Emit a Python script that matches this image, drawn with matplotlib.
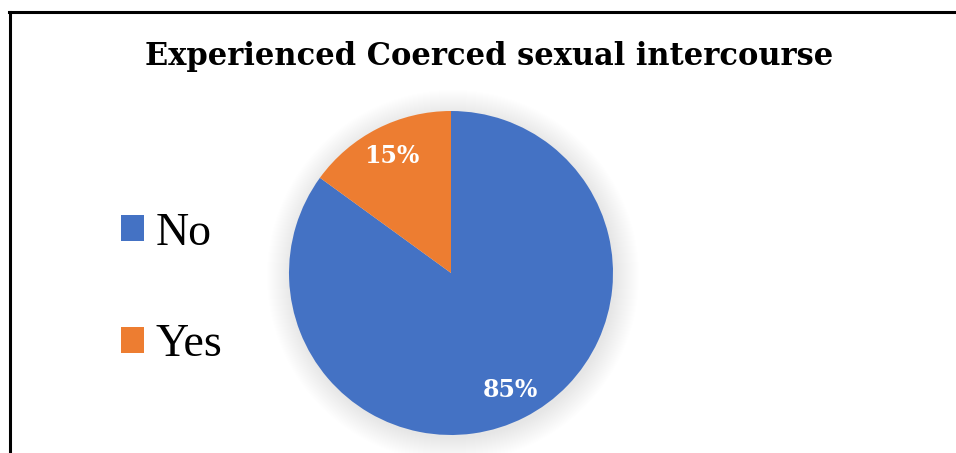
import matplotlib
matplotlib.use("Agg")
import matplotlib.pyplot as plt
from matplotlib.lines import Line2D
from matplotlib.patches import Circle

labels = ["No", "Yes"]
values = [85, 15]
colors = ["#4472C4", "#ED7D31"]
title = "Experienced Coerced sexual intercourse"

W, H = 956, 453
fig = plt.figure(figsize=(W / 100, H / 100), dpi=100)
ax = fig.add_axes([0, 0, 1, 1])

cx, cy, r = 451, H - 273, 162

# soft shadow behind the pie
for k in range(25):
    ax.add_patch(Circle((cx + 2, cy - 3), r + 24 - k * 1.0, color="black",
                        alpha=0.005, lw=0, zorder=0))

wedges, texts, autotexts = ax.pie(
    values, colors=colors, startangle=90, counterclock=False,
    center=(cx, cy), radius=r, autopct="%d%%", pctdistance=0.81,
    wedgeprops=dict(linewidth=0),
    textprops=dict(color="white", fontsize=17, fontweight="bold",
                   family="DejaVu Serif"), frame=True)
for w in wedges:
    w.set_zorder(2)
for t in autotexts:
    t.set_zorder(3)

ax.set_xlim(0, W)
ax.set_ylim(0, H)
ax.set_aspect("equal")
ax.axis("off")

ax.text(489, H - 57, title, ha="center", va="center", fontsize=22,
        fontweight="bold", family="DejaVu Serif")

leg = ax.legend(wedges, labels, loc="center left", bbox_to_anchor=(80 / W, 1 - 289 / H),
                frameon=False, handlelength=0.5, handleheight=0.5,
                handletextpad=0.25, labelspacing=1.5,
                prop=dict(family="Liberation Serif", size=33))

# chart border (left and top edges visible)
fig.add_artist(Line2D([9.5 / W, 9.5 / W], [0, 1 - 11.5 / H], color="black",
                      lw=2.2, transform=fig.transFigure))
fig.add_artist(Line2D([8.5 / W, 1], [1 - 11.5 / H, 1 - 11.5 / H], color="black",
                      lw=2.2, transform=fig.transFigure))

fig.savefig("out.png", dpi=100, facecolor="white")
